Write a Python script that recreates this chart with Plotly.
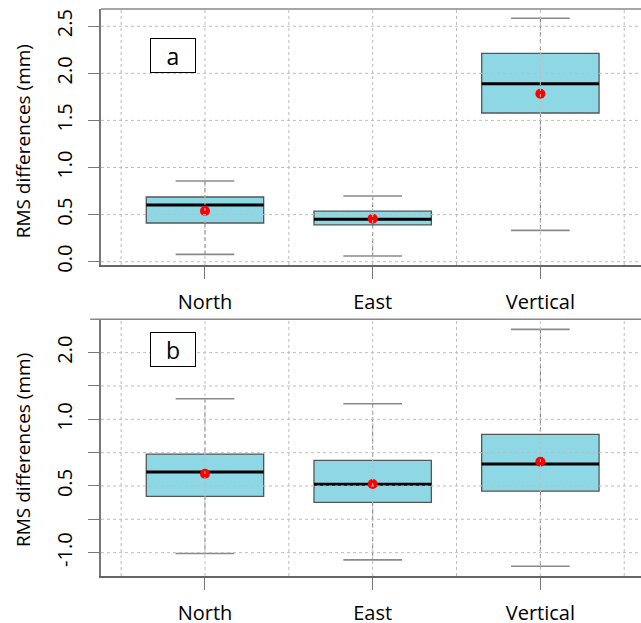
import numpy as np
import plotly.graph_objects as go

categories = ["North", "East", "Vertical"]

# Panel a (linear scale, mm)
a_lower = [0.078, 0.060, 0.333]
a_q1 = [0.411, 0.390, 1.579]
a_median = [0.602, 0.450, 1.890]
a_q3 = [0.687, 0.538, 2.212]
a_upper = [0.857, 0.697, 2.584]
a_mean = [0.538, 0.457, 1.784]
a_ticks = [0.0, 0.5, 1.0, 1.5, 2.0, 2.5]
a_ticktext = ["0.0", "0.5", "1.0", "1.5", "2.0", "2.5"]

# Panel b (log2-spaced axis)
b_lower = [0.248, 0.232, 0.217]
b_q1 = [0.449, 0.422, 0.474]
b_median = [0.578, 0.509, 0.628]
b_q3 = [0.697, 0.653, 0.856]
b_upper = [1.239, 1.176, 2.549]
b_mean = [0.568, 0.510, 0.643]
b_ticks = [0.25, 0.354, 0.5, 0.707, 1.0, 1.414, 2.0]
b_ticktext = ["-1.0", "", "0.5", "", "1.0", "", "2.0"]

y_title = "RMS differences (mm)"

FONT = "Open Sans"
FILL = "#8ED8E6"
OUT = "#555555"
GRID = "#bdbdbd"
WHISK = "#777777"

xs = [1, 2, 3]
BOXW = 0.7
CAPW = 0.35

fig = go.Figure()


def add_panel(lower, q1, med, q3, upper, mean, xa, ya, tf):
    lo, a1, md, a3, up, mn = [list(map(tf, v)) for v in (lower, q1, med, q3, upper, mean)]
    wx, wy = [], []
    for x, l, b, t, u in zip(xs, lo, a1, a3, up):
        wx += [x, x, None, x, x, None]
        wy += [u, t, None, b, l, None]
    fig.add_trace(go.Scatter(x=wx, y=wy, mode="lines", xaxis=xa, yaxis=ya,
                             line=dict(color=WHISK, width=1, dash="4px,3px"),
                             showlegend=False, hoverinfo="skip"))
    cx, cy = [], []
    for x, l, u in zip(xs, lo, up):
        cx += [x - CAPW / 2, x + CAPW / 2, None, x - CAPW / 2, x + CAPW / 2, None]
        cy += [u, u, None, l, l, None]
    fig.add_trace(go.Scatter(x=cx, y=cy, mode="lines", xaxis=xa, yaxis=ya,
                             line=dict(color="#8a8a8a", width=1.6),
                             showlegend=False, hoverinfo="skip"))
    fig.add_trace(go.Box(x=xs, q1=a1, median=md, q3=a3, lowerfence=a1,
                         upperfence=a3, width=BOXW, xaxis=xa, yaxis=ya,
                         fillcolor=FILL, line=dict(color=OUT, width=1.3),
                         whiskerwidth=0, showlegend=False, hoverinfo="skip"))
    mx, my = [], []
    for x, m in zip(xs, md):
        mx += [x - BOXW / 2, x + BOXW / 2, None]
        my += [m, m, None]
    fig.add_trace(go.Scatter(x=mx, y=my, mode="lines", xaxis=xa, yaxis=ya,
                             line=dict(color="black", width=3),
                             showlegend=False, hoverinfo="skip"))
    fig.add_trace(go.Scatter(x=xs, y=mn, mode="markers", xaxis=xa, yaxis=ya,
                             marker=dict(color="#ff0000", size=10, line=dict(width=0)),
                             showlegend=False, hoverinfo="skip"))


add_panel(a_lower, a_q1, a_median, a_q3, a_upper, a_mean, "x", "y", lambda v: v)
add_panel(b_lower, b_q1, b_median, b_q3, b_upper, b_mean, "x2", "y2",
          lambda v: float(np.log2(v)))

b_tickpos = [float(np.log2(v)) for v in b_ticks]

xaxis_common = dict(range=[0.38, 3.6], tickvals=xs, ticktext=categories,
                    ticks="outside", ticklen=12, tickcolor="#777777",
                    showline=True, linecolor="#666666", linewidth=1.5,
                    showgrid=False, zeroline=False, automargin=False,
                    ticklabelstandoff=6,
                    tickfont=dict(family=FONT, size=20, color="black"))
yaxis_common = dict(ticks="outside", ticklen=11, tickcolor="#777777",
                    showline=True, linecolor="#777777", linewidth=1.5,
                    showgrid=False, zeroline=False, tickangle=-90, automargin=False,
                    ticklabelstandoff=8,
                    tickfont=dict(family=FONT, size=20, color="black"))

fig.update_layout(
    width=641, height=623,
    margin=dict(l=101, r=0, t=9, b=47),
    plot_bgcolor="white", paper_bgcolor="white",
    xaxis=dict(domain=[0, 1], anchor="y", **xaxis_common),
    yaxis=dict(domain=[0.5485, 1.0], anchor="x", range=[-0.035, 2.683],
               tickvals=a_ticks, ticktext=a_ticktext, **yaxis_common),
    xaxis2=dict(domain=[0, 1], anchor="y2", **xaxis_common),
    yaxis2=dict(domain=[0.0, 0.4527], anchor="x2", range=[-2.35, 1.5],
                tickvals=b_tickpos, ticktext=b_ticktext, **yaxis_common),
)

shapes = []
grid_x = [0.5, 1.0, 1.5, 2.0, 2.5, 3.0, 3.5]
for xa, ya, yt in (("x", "y", a_ticks), ("x2", "y2", b_tickpos)):
    for gx in grid_x:
        shapes.append(dict(type="line", layer="above", xref=xa, yref=ya + " domain",
                           x0=gx, x1=gx, y0=0, y1=1,
                           line=dict(color=GRID, width=1, dash="dot")))
    for gy in yt:
        shapes.append(dict(type="line", layer="above", xref=xa + " domain", yref=ya,
                           x0=0, x1=1, y0=gy, y1=gy,
                           line=dict(color=GRID, width=1, dash="dot")))
# top frame lines
shapes.append(dict(type="line", layer="above", xref="x domain", yref="y domain",
                   x0=0, x1=1, y0=1, y1=1, line=dict(color="#888888", width=1.5)))
shapes.append(dict(type="line", layer="above", xref="x2 domain", yref="y2 domain",
                   x0=-0.02, x1=1, y0=1, y1=1, line=dict(color="#888888", width=1.5)))
fig.update_layout(shapes=shapes)

for txt, yy in (("a", 0.9483), ("b", 0.3998)):
    fig.add_annotation(text=txt, xref="paper", yref="paper", x=0.0907, y=yy,
                       showarrow=False, width=42, height=31,
                       bordercolor="black", borderwidth=1, bgcolor="white",
                       font=dict(family=FONT, size=23, color="black"))

# y-axis titles as rotated annotations
for yy in (0.7667, 0.2222):
    fig.add_annotation(text=y_title, xref="paper", yref="paper", x=-0.1444, y=yy,
                       xanchor="center", yanchor="middle", textangle=-90,
                       showarrow=False,
                       font=dict(family=FONT, size=19, color="black"))

fig.write_html("out.html", config={"displayModeBar": False},
               post_script="document.body.style.margin='0px';")
